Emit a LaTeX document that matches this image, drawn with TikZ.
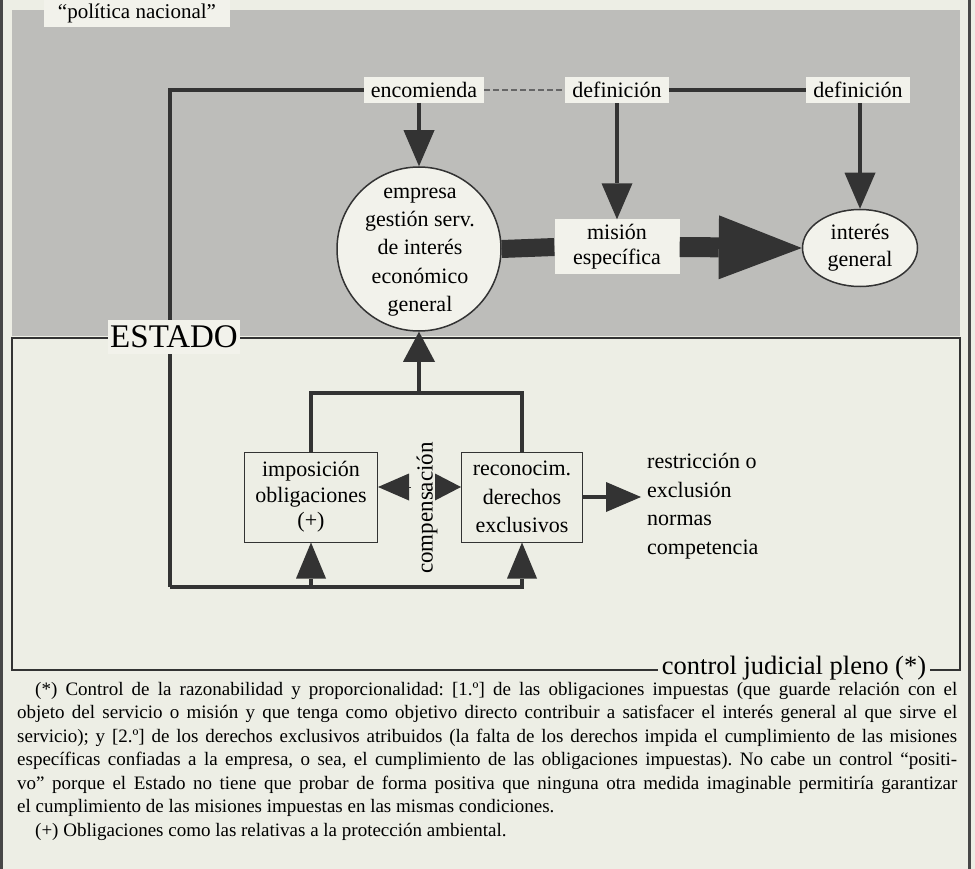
\documentclass[tikz,border=0pt]{standalone}
\usepackage{fontspec}
\setmainfont{Liberation Serif}
\usetikzlibrary{arrows.meta,shapes.geometric}
\definecolor{paper}{HTML}{EDEEE5}
\definecolor{greyarea}{HTML}{BDBDBA}
\definecolor{ink}{HTML}{333333}
\definecolor{lblfill}{HTML}{F2F2EB}
\frenchspacing
\begin{document}
\begin{tikzpicture}[x=1pt,y=-1pt,
  conn/.style={draw=ink,line width=3.2pt},
  tipA/.style={-{Triangle[width=31pt,length=36pt,line width=0pt]}},
  tipB/.style={-{Triangle[width=30pt,length=36pt,line width=0pt]}},
  lbl/.style={fill=lblfill,font=\fontsize{22}{28}\selectfont,inner xsep=7pt,inner ysep=5pt},
  thinbox/.style={draw=ink,line width=1pt,fill=paper,minimum height=90pt,align=center,inner sep=0pt},
  fn/.style={anchor=base west,inner sep=0pt,font=\fontsize{19}{23.5}\selectfont}]
% page and grey area
\fill[paper] (0,0) rectangle (975,869);
\useasboundingbox (0,0) rectangle (975,869);
\fill[greyarea] (12,10) rectangle (960,336);
\draw[ink!90,line width=3pt] (1.5,0) -- (1.5,869);
\draw[ink!90,line width=2.5pt] (969.5,0) -- (969.5,869);
% lower frame
\node[draw=ink,line width=1.2pt,minimum width=948pt,minimum height=332pt,inner sep=0pt] (frame) at (486,504) {};
% top labels
\node[fill=lblfill,font=\fontsize{21}{25}\selectfont,inner xsep=14pt,inner ysep=4pt] (pol) at (137,13) {“política nacional”};
\node[lbl] (enc) at (424,90) {encomienda};
\node[lbl] (def1) at (617,90) {definición};
\node[lbl] (def2) at (858,90) {definición};
% main nodes
\node[circle,draw=ink,line width=1.5pt,fill=lblfill,minimum size=164pt,inner sep=0pt] (emp) at (419,249) {};
\node[align=center,font=\fontsize{22}{28.3}\selectfont,inner sep=0pt] (empt) at (420,252) {empresa\\gestión serv.\\de interés\\económico\\general};
\node[fill=lblfill,minimum width=125pt,minimum height=55pt,inner sep=0pt,align=center,font=\fontsize{22}{25}\selectfont] (mis) at (617,247) {misión\\específica};
\node[ellipse,draw=ink,line width=1.5pt,fill=lblfill,minimum width=115pt,minimum height=77pt,inner sep=0pt,align=center,font=\fontsize{22}{27}\selectfont] (ig) at (860,248) {interés\\general};
\node[fill=lblfill,font=\fontsize{33}{36}\selectfont,inner xsep=2pt,inner ysep=6pt] (est) at (174,337) {ESTADO};
\node[fill=paper,font=\fontsize{26.5}{30}\selectfont,inner xsep=4pt,inner ysep=0pt] (cjp) at (794,668) {control judicial pleno (*)};
% lower boxes
\node[thinbox,minimum width=133pt,font=\fontsize{22}{25.5}\selectfont] (imp) at (311,497) {imposición\\obligaciones\\(+)};
\node[thinbox,minimum width=121pt,font=\fontsize{22}{28.5}\selectfont] (rec) at (522,497) {reconocim.\\derechos\\exclusivos};
\node[rotate=90,font=\fontsize{23}{26}\selectfont,inner sep=0pt] (comp) at (427,508) {compensación};
\node[anchor=west,align=left,font=\fontsize{22}{28.5}\selectfont,inner xsep=6pt,inner ysep=0pt] (res) at (641,506) {restricción o\\exclusión\\normas\\competencia};
% coordinates
\coordinate (tl) at (170,90);
\coordinate (j) at (419,393);
\coordinate (bl) at (170,587);
\coordinate (bi) at (311,587);
\coordinate (cl) at (411,487);
\coordinate (cr) at (436,487);
% top connectors
\draw[conn] (est.north -| tl) -- (tl) -- (enc.west);
\draw[ink!75,line width=1.8pt,dash pattern=on 6pt off 3pt] (enc.east) -- (def1.west);
\draw[conn] (def1.east) -- (def2.west);
\draw[conn,tipA] (enc.south -| emp.north) -- (emp.north);
\draw[conn,tipA] (def1.south) -- (mis.north);
\draw[conn,tipA] (def2.south -| ig.north) -- (ig.north);
% thick arrows
\draw[ink,line width=18pt] (emp.east) -- (mis.west);
\draw[ink,line width=20pt,-{Triangle[width=64pt,length=83pt,line width=0pt]}] (mis.east) -- (ig.west);
% lower connectors
\draw[conn,-{Triangle[width=32pt,length=30pt,line width=0pt]}] (j) -- (emp.south);
\draw[conn] (imp.north) |- (j) -| (rec.north);
\draw[conn] (est.south -| tl) -- (bl);
\draw[conn,tipB] (bl) -| (rec.south);
\draw[conn,tipB] (bi) -- (imp.south);
\draw[ink,line width=0.5pt,-{Triangle[width=27pt,length=31pt,line width=0pt]}] (cl) -- (cl -| imp.east);
\draw[ink,line width=0.5pt,-{Triangle[width=27pt,length=26pt,line width=0pt]}] (cr) -- (cr -| rec.west);
\draw[conn,-{Triangle[width=30pt,length=35pt,line width=0pt]}] (rec.east) -- (res.west |- rec.east);
% footnotes
\node[fn] (f1) at (35,695) {\makebox[922pt][s]{(*) Control de la razonabilidad y proporcionalidad: [1.º] de las obligaciones impuestas (que guarde relación con el}};
\node[fn] (f2) at (17,718.5) {\makebox[940pt][s]{objeto del servicio o misión y que tenga como objetivo directo contribuir a satisfacer el interés general al que sirve el}};
\node[fn] (f3) at (17,742) {\makebox[940pt][s]{servicio); y [2.º] de los derechos exclusivos atribuidos (la falta de los derechos impida el cumplimiento de las misiones}};
\node[fn] (f4) at (17,765.5) {\makebox[940pt][s]{específicas confiadas a la empresa, o sea, el cumplimiento de las obligaciones impuestas). No cabe un control “positi-}};
\node[fn] (f5) at (17,789) {\makebox[940pt][s]{vo” porque el Estado no tiene que probar de forma positiva que ninguna otra medida imaginable permitiría garantizar}};
\node[fn] (f6) at (17,812.5) {el cumplimiento de las misiones impuestas en las mismas condiciones.};
\node[fn] (f7) at (35,836) {(+) Obligaciones como las relativas a la protección ambiental.};
\end{tikzpicture}
\end{document}
